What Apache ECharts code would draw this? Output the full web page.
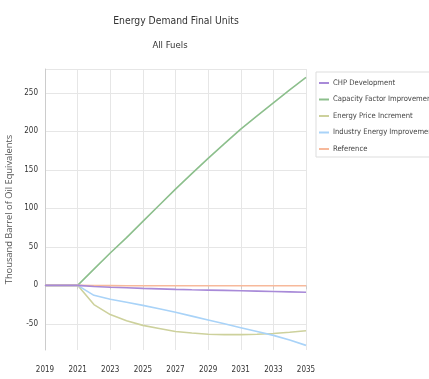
<!DOCTYPE html>
<html>
<head>
<meta charset="utf-8">
<script src="https://cdn.jsdelivr.net/npm/echarts@6/dist/echarts.min.js"></script>
<style>html,body{margin:0;padding:0;background:#fff;}#c{width:429px;height:379px;}</style>
</head>
<body>
<div id="c"></div>
<script>
const years = ['2019','2020','2021','2022','2023','2024','2025','2026','2027','2028','2029','2030','2031','2032','2033','2034','2035'];
const yTickLabels = [-50, 0, 50, 100, 150, 200, 250];
const seriesNames = ['CHP Development','Capacity Factor Improvement','Energy Price Increment','Industry Energy Improvement','Reference'];
const chpDevelopment = [0,0,0,-1.5,-2.5,-3.2,-4,-4.6,-5.3,-5.8,-6.2,-6.6,-7,-7.5,-8,-8.5,-9];
const capacityFactor = [0,0,0,21,42,62,83,104,125,145,165,184,203,220,237,254,270];
const energyPrice = [0,0,0,-25,-38,-46,-52,-56,-60,-62,-63.5,-64,-64,-63.5,-62.5,-61,-59];
const industryEnergy = [0,0,0,-13,-18,-22,-26,-30.5,-35,-40,-45,-50,-55,-60,-65,-71,-78];
const reference = [0,0,0,-0.3,-0.4,-0.5,-0.5,-0.5,-0.5,-0.5,-0.5,-0.5,-0.5,-0.5,-0.5,-0.5,-0.5];
const colors = ['#a88ad8','#8cbf8c','#cdd19c','#a9d3f8','#f7b99b'];
const yMin = -84, yMax = 281;
const narrow = "'DejaVu Sans Condensed', Roboto, sans-serif";

const chart = echarts.init(document.getElementById('c'));
const dataSets = [chpDevelopment, capacityFactor, energyPrice, industryEnergy, reference];
const zs = [6, 2, 3, 4, 5];
chart.setOption({
  animation: false,
  title: [
    {text: 'Energy Demand Final Units', left: 171, top: 11, textAlign: 'center',
     textStyle: {fontFamily: narrow, fontSize: 10.3, fontWeight: 'normal', color: '#333'}},
    {text: 'All Fuels', left: 165, top: 36, textAlign: 'center',
     textStyle: {fontFamily: narrow, fontSize: 9.5, fontWeight: 'normal', color: '#333'}}
  ],
  legend: {
    orient: 'vertical', left: 316, top: 72,
    data: seriesNames,
    icon: 'rect', itemWidth: 10, itemHeight: 2, itemGap: 8.5,
    padding: [7, 4, 4, 3],
    borderColor: '#ddd', borderWidth: 1,
    textStyle: {fontFamily: narrow, fontSize: 7.6, color: '#444', padding: [0,0,0,-1]}
  },
  grid: {left: 45, right: 123, top: 69, bottom: 29, containLabel: false, outerBoundsMode: 'none'},
  xAxis: {
    type: 'category', data: years, boundaryGap: false,
    axisLine: {show: true, lineStyle: {color: '#ccc'}},
    axisTick: {show: true, interval: 1, length: 4, lineStyle: {color: '#ccc'}},
    axisLabel: {interval: 1, margin: 16, fontFamily: narrow, fontSize: 8, color: '#333'},
    splitLine: {show: true, interval: 1, lineStyle: {color: '#e6e6e6'}}
  },
  yAxis: {
    type: 'value', min: yMin, max: yMax,
    name: 'Thousand Barrel of Oil Equivalents', nameLocation: 'middle', nameGap: 24,
    nameTextStyle: {fontFamily: "'Open Sans', sans-serif", fontSize: 9.3, color: '#555'},
    axisLine: {show: true, lineStyle: {color: '#ccc'}},
    axisTick: {show: false, customValues: yTickLabels.concat([yMax])},
    axisLabel: {customValues: yTickLabels, fontFamily: narrow, fontSize: 8, color: '#333', margin: 7},
    splitLine: {show: true, lineStyle: {color: '#e6e6e6'}}
  },
  series: seriesNames.map((n, i) => ({
    name: n, type: 'line', data: dataSets[i], showSymbol: false, symbol: 'none',
    z: zs[i], color: colors[i], lineStyle: {width: 1.6, color: colors[i]}
  }))
});
</script>
</body>
</html>
